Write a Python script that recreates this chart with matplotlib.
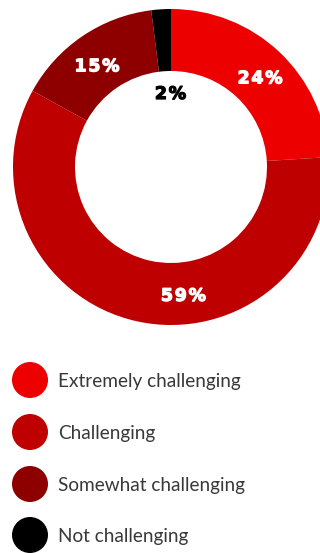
import numpy as np
import matplotlib.pyplot as plt
import matplotlib.patheffects as pe

# data
categories = ['Extremely challenging', 'Challenging', 'Somewhat challenging', 'Not challenging']
values = [24, 59, 15, 2]
colors = ['#EC0000', '#BE0000', '#8E0000', '#000000']
label_colors = ['white', 'white', 'white', 'black']

W, H = 320, 553
fig = plt.figure(figsize=(W / 100, H / 100), dpi=100)
ax = fig.add_axes([0, 0, 1, 1])

cx, cy = 171, H - 167
r_out, r_in = 158, 96

wedges, _ = ax.pie(values, colors=colors, startangle=90, counterclock=False,
                   center=(cx, cy), radius=r_out,
                   wedgeprops=dict(width=r_out - r_in, linewidth=0), frame=True)
ax.set_xlim(0, W)
ax.set_ylim(0, H)
ax.set_aspect('equal')
ax.axis('off')

# label positions: angle offset from wedge middle and radius
label_shift = [-1.3, 18.2, 1.6, -3.2]
label_rad = [127, 127.5, 126.5, 75]
for w, v, c, sh, rr in zip(wedges, values, label_colors, label_shift, label_rad):
    ang = np.deg2rad((w.theta1 + w.theta2) / 2 + sh)
    txt = '\u200a'.join(f'{v}%')  # a little letter spacing
    ax.text(cx + rr * np.cos(ang), cy + rr * np.sin(ang), txt,
            ha='center', va='center_baseline', color=c, fontsize=12.5,
            fontweight='bold', family='DejaVu Sans',
            path_effects=[pe.withStroke(linewidth=0.9, foreground=c)])

# legend
leg_y = [380, 432, 484, 535]
for name, col, y in zip(categories, colors, leg_y):
    ax.add_patch(plt.Circle((30, H - y), 18, color=col, lw=0))
    ax.text(58, H - y, name, ha='left', va='center_baseline', fontsize=13.7,
            color='#383838', family=['Lato', 'DejaVu Sans'])

fig.savefig('out.png', dpi=100)
